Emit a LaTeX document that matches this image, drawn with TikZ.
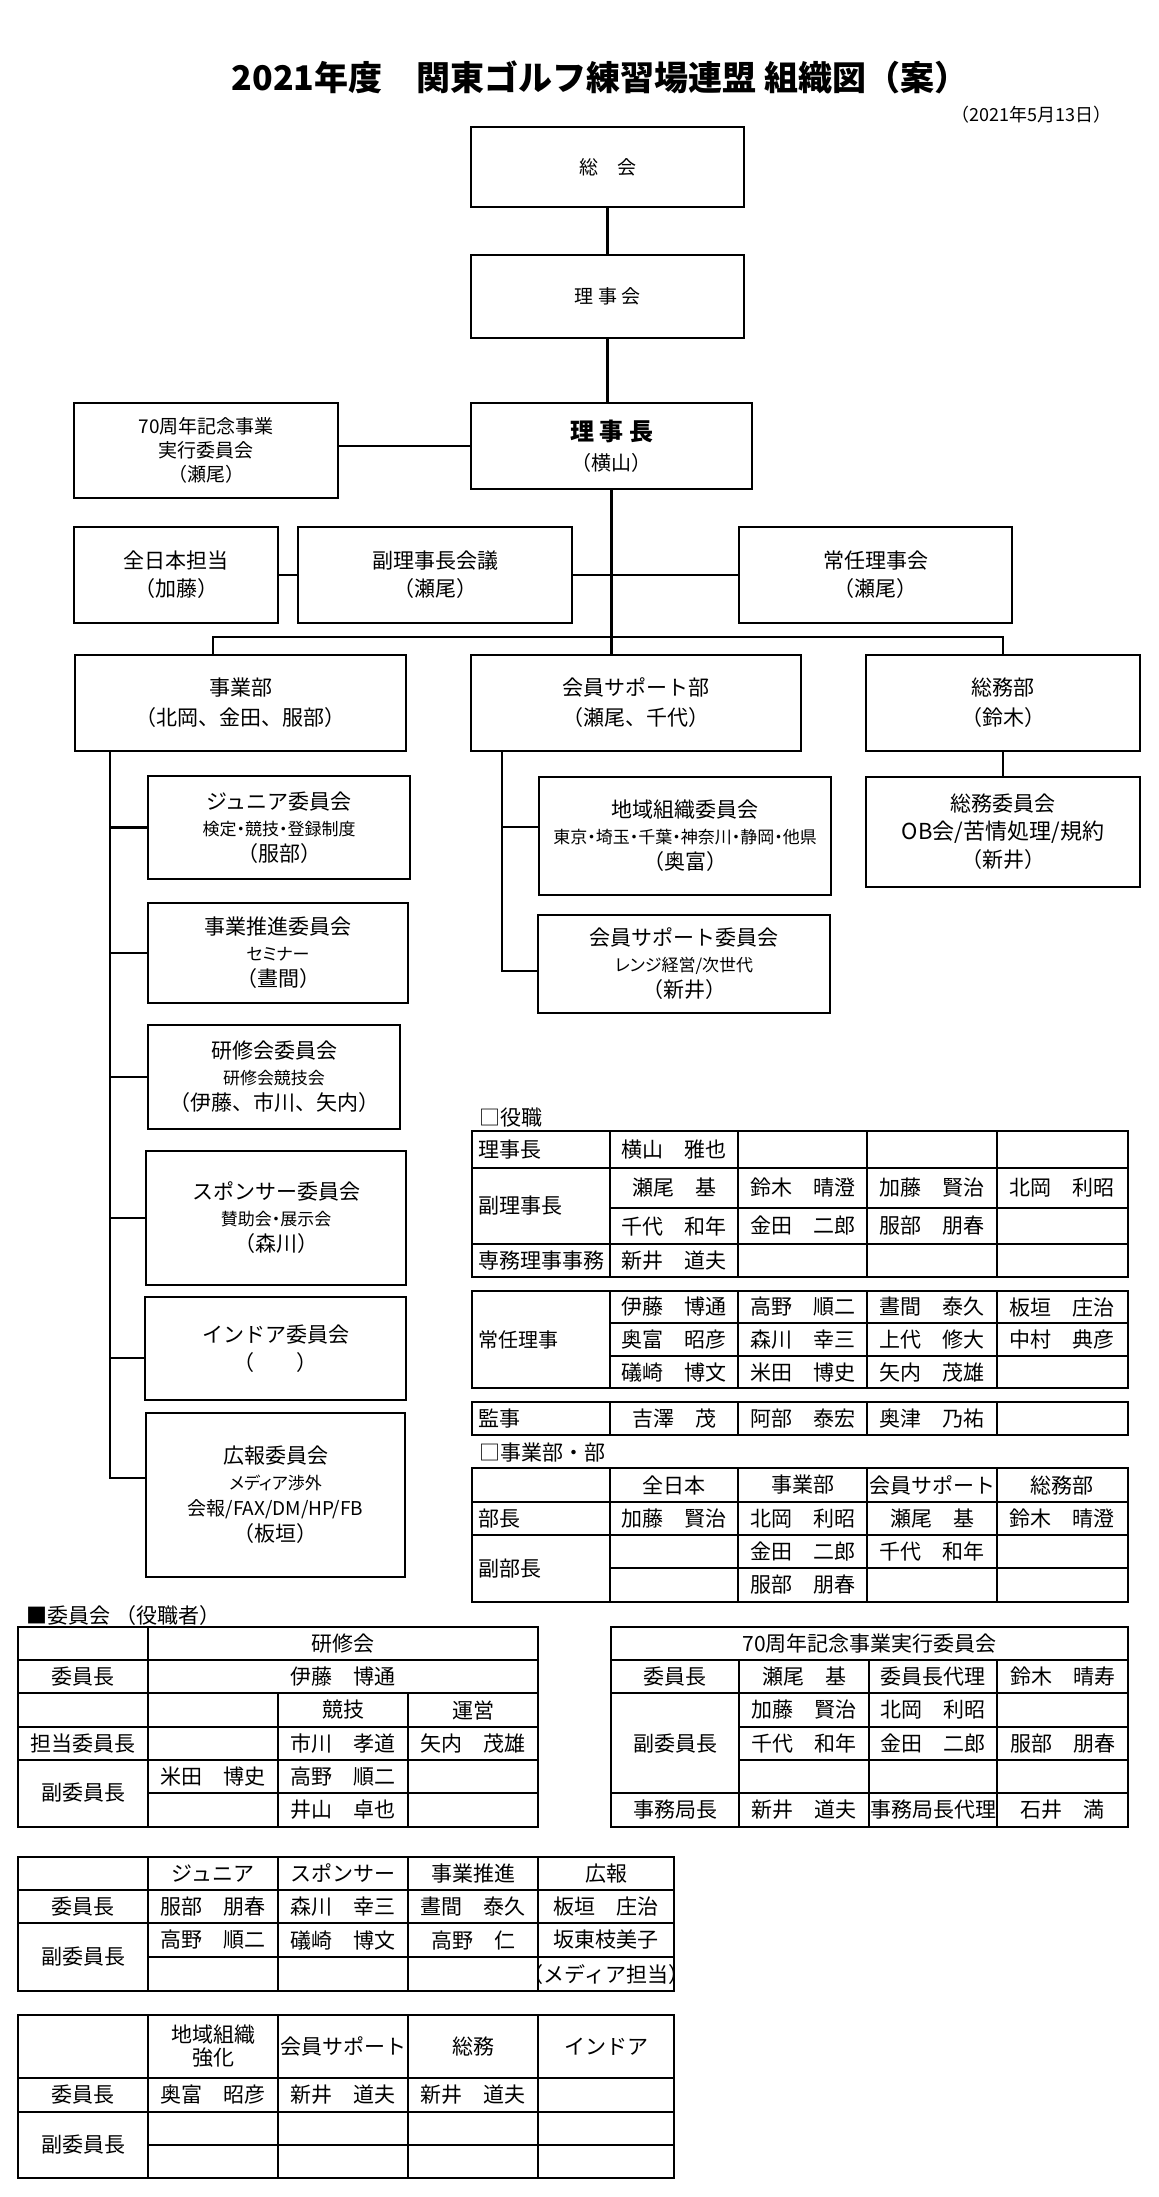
\documentclass[tikz,border=0pt]{standalone}
\usepackage{fontspec}
\setmainfont{Noto Sans CJK JP}
\newfontfamily\pfont{Noto Sans CJK JP}[RawFeature=+palt]
\usetikzlibrary{positioning}

% box from its corners (px): name, x1, y1, x2, y2, text
\newcommand{\orgbox}[7][]{%
  \node[orgnode,#1,minimum width={(#5-#3)*0.5pt},minimum height={(#6-#4)*0.5pt}]
    (#2) at ({(#3+#5)/2},{(#4+#6)/2}) {#7};}
\newcommand{\subline}[1]{{\pfont\fontsize{8.5pt}{13pt}\selectfont #1}}

\begin{document}
\begin{tikzpicture}[
    x=0.5pt,y=-0.5pt,
    every node/.style={inner sep=0pt,font=\fontsize{10.5pt}{13pt}\selectfont},
    orgnode/.style={draw,line width=1.3pt,align=center},
    conn/.style={line width=1.1pt},
    grid/.style={line width=0.9pt},
    frame/.style={line width=1.2pt},
    lab/.style={anchor=west}
  ]
  \useasboundingbox (0,0) rectangle (1158,2197);
  \fill[white] (0,0) rectangle (1158,2197);

  % title
  \node[font=\bfseries\fontsize{17pt}{20pt}\selectfont] (title) at (600,77)
    {2021年度　関東ゴルフ練習場連盟 組織図（案）};
  \node[anchor=east,font=\fontsize{9pt}{11pt}\selectfont] (date) at (1112,115)
    {（2021年5月13日）};

  % top of the chart
  \orgbox[font=\fontsize{9.5pt}{11pt}\selectfont]{sokai}{471}{127}{744}{207}{総　会}
  \orgbox[font=\fontsize{9.5pt}{11pt}\selectfont]{rijikai}{471}{255}{744}{338}{理 事 会}
  \orgbox[font=\fontsize{10pt}{15pt}\selectfont]{rijicho}{471}{403}{752}{489}
    {{\bfseries\fontsize{12pt}{15pt}\selectfont 理 事 長}\\（横山）}
  \orgbox[font=\fontsize{9.5pt}{12pt}\selectfont]{kinen}{74}{403}{338}{498}
    {70周年記念事業\\実行委員会\\（瀬尾）}
  \orgbox[font=\fontsize{10.5pt}{14pt}\selectfont]{zennihon}{74}{527}{278}{623}{全日本担当\\（加藤）}
  \orgbox[font=\fontsize{10.5pt}{14pt}\selectfont]{fukukaigi}{298}{527}{572}{623}{副理事長会議\\（瀬尾）}
  \orgbox[font=\fontsize{10.5pt}{14pt}\selectfont]{joninkai}{739}{527}{1012}{623}{常任理事会\\（瀬尾）}

  % divisions
  \orgbox[font=\fontsize{10.5pt}{15pt}\selectfont]{jigyo}{75}{655}{406}{751}{事業部\\（北岡、金田、服部）}
  \orgbox[font=\fontsize{10.5pt}{15pt}\selectfont]{kaiin}{471}{655}{801}{751}{会員サポート部\\（瀬尾、千代）}
  \orgbox[font=\fontsize{10.5pt}{15pt}\selectfont]{somu}{866}{655}{1140}{751}{総務部\\（鈴木）}

  % committees
  \orgbox{junior}{148}{776}{410}{879}{ジュニア委員会\\\subline{検定・競技・登録制度}\\（服部）}
  \orgbox{suishin}{148}{903}{408}{1003}{事業推進委員会\\\subline{セミナー}\\（晝間）}
  \orgbox{kenshu}{148}{1025}{400}{1129}{研修会委員会\\\subline{研修会競技会}\\（伊藤、市川、矢内）}
  \orgbox{sponsor}{146}{1151}{406}{1285}{スポンサー委員会\\\subline{賛助会・展示会}\\（森川）}
  \orgbox[font=\fontsize{10.5pt}{14pt}\selectfont]{indoor}{145}{1297}{406}{1400}{インドア委員会\\（　　）}
  \orgbox{koho}{146}{1413}{405}{1577}{広報委員会\\\subline{メディア渉外}\\%
    {\fontsize{9.5pt}{13pt}\selectfont 会報/FAX/DM/HP/FB}\\（板垣）}
  \orgbox{chiiki}{539}{777}{831}{895}{地域組織委員会\\\subline{東京・埼玉・千葉・神奈川・静岡・他県}\\（奥富）}
  \orgbox{kaiinsup}{538}{915}{830}{1013}{会員サポート委員会\\\subline{レンジ経営/次世代}\\（新井）}
  \orgbox[font=\fontsize{10.5pt}{14pt}\selectfont]{somuiin}{866}{777}{1140}{887}
    {総務委員会\\{\fontsize{11pt}{14pt}\selectfont OB会/苦情処理/規約}\\（新井）}

  % connectors
  \coordinate (barL) at (213,637);
  \coordinate (jspine) at (110,751);
  \coordinate (kspine) at (502,751);
  \draw[conn] (sokai) -- (rijikai);
  \draw[conn] (rijikai.south) -- (rijikai.south |- rijicho.north);
  \draw[conn] (rijicho.west) -- (rijicho.west -| kinen.east);
  \draw[conn] (rijicho.south) -- (rijicho.south |- kaiin.north);
  \draw[conn] (zennihon) -- (fukukaigi);
  \draw[conn] (fukukaigi) -- (joninkai);
  \draw[conn] (barL |- jigyo.north) -- (barL) -| (somu.north);
  \draw[conn] (jspine) |- ([yshift=8.5pt]koho.west);
  \foreach \n in {junior,suishin,kenshu,sponsor}
    \draw[conn] (jspine |- \n.west) -- (\n.west);
  \draw[conn] (jspine |- 0,1358) -- (indoor.west |- 0,1358);
  \draw[conn] (kspine) |- ([yshift=-3.5pt]kaiinsup.west);
  \draw[conn] (kspine |- 0,827) -- (chiiki.west |- 0,827);
  \draw[conn] (somu) -- (somuiin);

  % 役職
  \node[lab] (yaku) at (479,1118) {□役職};
  \draw[frame] (472,1131) rectangle (1128,1277);
  \foreach \y in {1168,1244} \draw[grid] (472,\y) -- (1128,\y);
  \draw[grid] (610,1208) -- (1128,1208);
  \foreach \x in {610,738,867,997} \draw[grid] (\x,1131) -- (\x,1277);
  \node[lab] (yk-cho) at (478,1149.5) {理事長};
  \node (yk-chon) at (674,1149.5) {横山　雅也};
  \node[lab] (yk-fuku) at (478,1206) {副理事長};
  \foreach \t/\x in {瀬尾　基/674,鈴木　晴澄/803,加藤　賢治/932,北岡　利昭/1062}
    \node (yk-fa\x) at (\x,1188) {\t};
  \foreach \t/\x in {千代　和年/674,金田　二郎/803,服部　朋春/932}
    \node (yk-fb\x) at (\x,1226) {\t};
  \begin{scope}
    \clip (472,1244) rectangle (610,1277);
    \node[lab] (yk-senmu) at (478,1260.5) {専務理事事務};
  \end{scope}
  \node (yk-senmun) at (674,1260.5) {新井　道夫};

  % 常任理事
  \draw[frame] (472,1291) rectangle (1128,1388);
  \foreach \y in {1323,1356} \draw[grid] (610,\y) -- (1128,\y);
  \foreach \x in {610,738,867,997} \draw[grid] (\x,1291) -- (\x,1388);
  \node[lab,font=\fontsize{10pt}{12pt}\selectfont] (jn) at (478,1339.5) {常任理事};
  \foreach \t/\x in {伊藤　博通/674,高野　順二/803,晝間　泰久/932,板垣　庄治/1062}
    \node (jn-a\x) at (\x,1307) {\t};
  \foreach \t/\x in {奥富　昭彦/674,森川　幸三/803,上代　修大/932,中村　典彦/1062}
    \node (jn-b\x) at (\x,1339.5) {\t};
  \foreach \t/\x in {礒崎　博文/674,米田　博史/803,矢内　茂雄/932}
    \node (jn-c\x) at (\x,1372) {\t};

  % 監事
  \draw[frame] (472,1402) rectangle (1128,1435);
  \foreach \x in {610,738,867,997} \draw[grid] (\x,1402) -- (\x,1435);
  \node[lab] (kanji) at (478,1418.5) {監事};
  \foreach \t/\x in {吉澤　茂/674,阿部　泰宏/803,奥津　乃祐/932}
    \node (kj\x) at (\x,1418.5) {\t};

  % 事業部・部
  \node[lab] (bu) at (479,1453) {□事業部・部};
  \draw[frame] (472,1468) rectangle (1128,1602);
  \foreach \y in {1502,1535} \draw[grid] (472,\y) -- (1128,\y);
  \draw[grid] (610,1568) -- (1128,1568);
  \foreach \x in {610,738,867,997} \draw[grid] (\x,1468) -- (\x,1602);
  \foreach \t/\x in {全日本/674,事業部/803,会員サポート/932,総務部/1062}
    \node (bu-h\x) at (\x,1485) {\t};
  \node[lab] (bu-cho) at (478,1518.5) {部長};
  \foreach \t/\x in {加藤　賢治/674,北岡　利昭/803,瀬尾　基/932,鈴木　晴澄/1062}
    \node (bu-a\x) at (\x,1518.5) {\t};
  \node[lab] (bu-fuku) at (478,1568.5) {副部長};
  \node (bu-b1) at (803,1551.5) {金田　二郎};
  \node (bu-b2) at (932,1551.5) {千代　和年};
  \node (bu-c1) at (803,1585) {服部　朋春};

  % 委員会
  \node[lab] (iinkai) at (26,1615) {■委員会 （役職者）};

  % 研修会
  \draw[frame] (18,1627) rectangle (538,1827);
  \foreach \y in {1660,1693,1727,1760} \draw[grid] (18,\y) -- (538,\y);
  \draw[grid] (148,1793) -- (538,1793);
  \draw[grid] (148,1627) -- (148,1827);
  \foreach \x in {278,408} \draw[grid] (\x,1693) -- (\x,1827);
  \node (ks-h) at (343,1643.5) {研修会};
  \node (ks-cho) at (83,1676.5) {委員長};
  \node (ks-chon) at (343,1676.5) {伊藤　博通};
  \node (ks-kyogi) at (343,1710) {競技};
  \node (ks-unei) at (473,1710) {運営};
  \node (ks-tanto) at (83,1743.5) {担当委員長};
  \node (ks-tanto1) at (343,1743.5) {市川　孝道};
  \node (ks-tanto2) at (473,1743.5) {矢内　茂雄};
  \node (ks-fuku) at (83,1793) {副委員長};
  \node (ks-fuku1) at (213,1776.5) {米田　博史};
  \node (ks-fuku2) at (343,1776.5) {高野　順二};
  \node (ks-fuku3) at (343,1810) {井山　卓也};

  % 70周年記念事業実行委員会
  \draw[frame] (611,1627) rectangle (1128,1827);
  \foreach \y in {1660,1693,1793} \draw[grid] (611,\y) -- (1128,\y);
  \foreach \y in {1727,1760} \draw[grid] (739,\y) -- (1128,\y);
  \foreach \x in {739,869,997} \draw[grid] (\x,1660) -- (\x,1827);
  \node (kn-h) at (869.5,1643.5) {70周年記念事業実行委員会};
  \node (kn-cho) at (675,1676.5) {委員長};
  \foreach \t/\x in {瀬尾　基/804,委員長代理/933,鈴木　晴寿/1062.5}
    \node (kn-a\x) at (\x,1676.5) {\t};
  \node (kn-fuku) at (675,1743.5) {副委員長};
  \foreach \t/\x in {加藤　賢治/804,北岡　利昭/933}
    \node (kn-b\x) at (\x,1710) {\t};
  \foreach \t/\x in {千代　和年/804,金田　二郎/933,服部　朋春/1062.5}
    \node (kn-c\x) at (\x,1743.5) {\t};
  \node (kn-kyoku) at (675,1810) {事務局長};
  \node (kn-kyoku1) at (804,1810) {新井　道夫};
  \begin{scope}
    \clip (869,1793) rectangle (997,1827);
    \node (kn-dairi) at (933,1810) {事務局長代理};
  \end{scope}
  \node (kn-kyoku2) at (1062.5,1810) {石井　満};

  % ジュニア・スポンサー・事業推進・広報
  \draw[frame] (18,1857) rectangle (674,1991);
  \foreach \y in {1890,1923} \draw[grid] (18,\y) -- (674,\y);
  \draw[grid] (148,1957) -- (674,1957);
  \foreach \x in {148,278,408,538} \draw[grid] (\x,1857) -- (\x,1991);
  \foreach \t/\x in {ジュニア/213,スポンサー/343,事業推進/473,広報/606}
    \node (ja-h\x) at (\x,1873.5) {\t};
  \node (ja-cho) at (83,1906.5) {委員長};
  \foreach \t/\x in {服部　朋春/213,森川　幸三/343,晝間　泰久/473,板垣　庄治/606}
    \node (ja-a\x) at (\x,1906.5) {\t};
  \node (ja-fuku) at (83,1957) {副委員長};
  \foreach \t/\x in {高野　順二/213,礒崎　博文/343,高野　仁/473,坂東枝美子/606}
    \node (ja-b\x) at (\x,1940) {\t};
  \begin{scope}
    \clip (538,1957) rectangle (674,1991);
    \node (ja-media) at (606,1974) {（メディア担当）};
  \end{scope}

  % 地域組織強化・会員サポート・総務・インドア
  \draw[frame] (18,2015) rectangle (674,2178);
  \foreach \y in {2078,2112} \draw[grid] (18,\y) -- (674,\y);
  \draw[grid] (148,2145) -- (674,2145);
  \foreach \x in {148,278,408,538} \draw[grid] (\x,2015) -- (\x,2178);
  \node[align=center,font=\fontsize{10.5pt}{11.5pt}\selectfont] (cs-h1) at (213,2046.5) {地域組織\\強化};
  \foreach \t/\x in {会員サポート/343,総務/473,インドア/606}
    \node (cs-h\x) at (\x,2046.5) {\t};
  \node (cs-cho) at (83,2095) {委員長};
  \foreach \t/\x in {奥富　昭彦/213,新井　道夫/343,新井　道夫/473}
    \node (cs-a\x) at (\x,2095) {\t};
  \node (cs-fuku) at (83,2145) {副委員長};
\end{tikzpicture}
\end{document}
